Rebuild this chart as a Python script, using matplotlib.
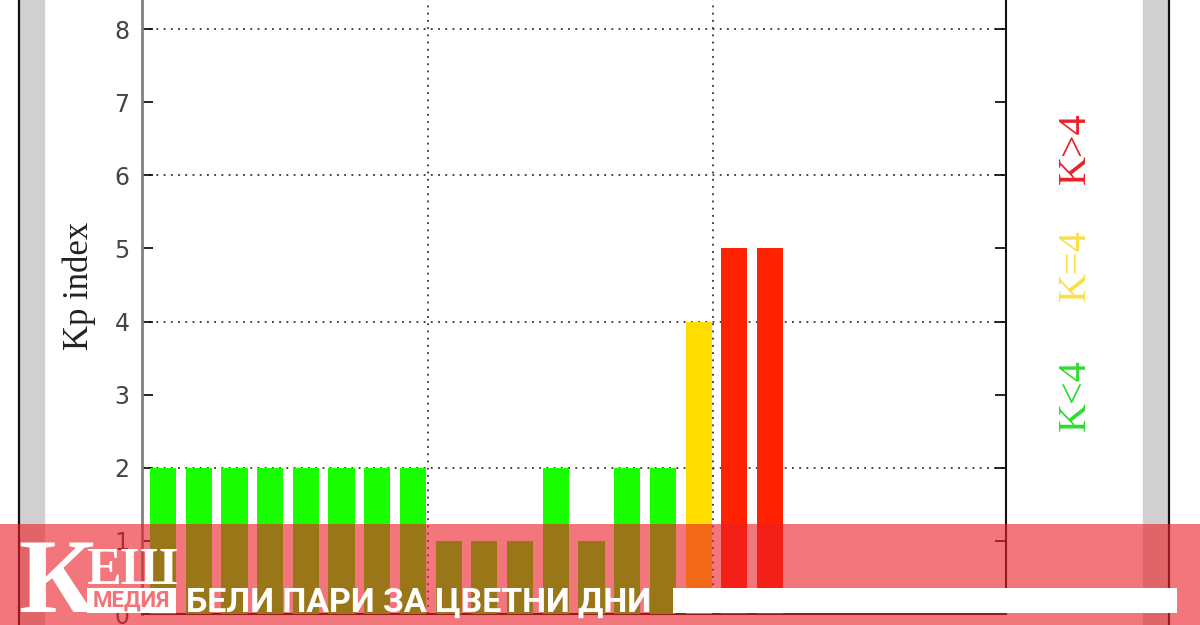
import matplotlib.pyplot as plt
from matplotlib.patches import Rectangle
from matplotlib.lines import Line2D

# Kp по 3-часовым интервалам (3 суток, третьи сутки неполные)
kp_day1 = [2, 2, 2, 2, 2, 2, 2, 2]
kp_day2 = [1, 1, 1, 2, 1, 2, 2, 4]
kp_day3 = [5, 5]
kp = kp_day1 + kp_day2 + kp_day3
y_ticks = [0, 1, 2, 3, 4, 5, 6, 7, 8]
grid_levels = [2, 4, 6, 8]
day_bounds = [24, 48]
legend_labels = ['K<4', 'K=4', 'K>4']
ylabel = 'Kp index'
banner_text = 'БЕЛИ ПАРИ ЗА ЦВЕТНИ ДНИ'
logo_big = 'К'
logo_small = 'ЕШ'
logo_sub = 'МЕДИЯ'

W, H = 1200, 625
fig = plt.figure(figsize=(12, 6.25), dpi=100)
fig.patch.set_facecolor('white')


def fx(x):
    return x / W


def fy(y):
    return 1 - y / H


def fit_width(t, width_px):
    r = fig.canvas.get_renderer()
    w = t.get_window_extent(r).width
    t.set_fontsize(t.get_fontsize() * width_px / w)


# рамка скриншота
fig.add_artist(Rectangle((fx(20), 0), 24 / W, 1, transform=fig.transFigure, color='#d0d0d0', zorder=0))
fig.add_artist(Rectangle((fx(1143), 0), 25 / W, 1, transform=fig.transFigure, color='#d0d0d0', zorder=0))
fig.add_artist(Line2D([fx(19), fx(19)], [0, 1], transform=fig.transFigure, color='#111111', lw=1.6))
fig.add_artist(Line2D([fx(1169), fx(1169)], [0, 1], transform=fig.transFigure, color='#111111', lw=1.6))

# сам график
ax = fig.add_axes([fx(142), 11 / H, 864 / W, 9 * 73.1 / H])
colors = ['#1aff00' if k < 4 else '#ffdd00' if k == 4 else '#ff2200' for k in kp]
x_left = [0.67 + 3 * i for i in range(len(kp))]
ax.bar(x_left, kp, width=2.2, align='edge', color=colors, zorder=3)
ax.hlines(grid_levels, 0, 72.6, colors='#333333', linestyles=(0, (1, 3)), lw=1.3, zorder=1)
for d in day_bounds:
    ax.axvline(d, color='#333333', ls=(0, (1, 3)), lw=1.3, zorder=1)
ax.set_xlim(0, 72.6)
ax.set_ylim(0, 9)
ax.set_yticks(y_ticks)
ax.set_xticks([])
ax.tick_params(axis='y', direction='in', length=8, width=1.2, left=True, right=True,
               labelsize=17, labelcolor='#444444', pad=9)
for lab in ax.get_yticklabels():
    lab.set_family('DejaVu Sans')
ax.spines['left'].set_color('#808080')
ax.spines['left'].set_linewidth(2)
ax.spines['right'].set_color('#111111')
ax.spines['right'].set_linewidth(1.5)
ax.spines['bottom'].set_color('#111111')
ax.spines['bottom'].set_linewidth(1.5)

fig.text(fx(79), fy(286), ylabel, rotation=90, ha='center', va='center',
         family='Liberation Serif', fontsize=25, color='#222222')

leg_colors = ['#2fdc2f', '#f7e046', '#e8222a']
leg_y = [395, 265, 148]
for lab, c, y in zip(legend_labels, leg_colors, leg_y):
    fig.text(fx(1075), fy(y), lab, rotation=90, ha='center', va='center',
             family='Liberation Serif', fontsize=29, color=c)

# баннер поверх
fig.add_artist(Rectangle((0, 0), 1, (H - 524) / H, transform=fig.transFigure,
                         facecolor='#eb2027', alpha=0.61, lw=0, zorder=10))
fig.add_artist(Rectangle((fx(673), fy(613)), (1177 - 673) / W, 25 / H, transform=fig.transFigure,
                         facecolor='white', lw=0, zorder=11))
fig.add_artist(Rectangle((fx(87), fy(613)), (176 - 87) / W, 25 / H, transform=fig.transFigure,
                         facecolor='white', lw=0, zorder=11))

fig.text(fx(18), fy(612), logo_big, family='Liberation Serif', weight='bold', fontsize=76,
         color='white', va='baseline', zorder=12)
t = fig.text(fx(86), fy(584), logo_small, family='Liberation Serif', weight='bold', fontsize=40,
             color='white', va='baseline', zorder=12)
fit_width(t, 92)
t = fig.text(fx(131.5), fy(600.5), logo_sub, family='Roboto', weight='bold', fontsize=14,
             color='#f27479', ha='center', va='center', zorder=12)
fit_width(t, 78)
t = fig.text(fx(186), fy(612), banner_text, family='Roboto', weight='bold', fontsize=26,
             color='white', va='baseline', zorder=12)
fit_width(t, 466)

fig.savefig('out.png', dpi=100)
